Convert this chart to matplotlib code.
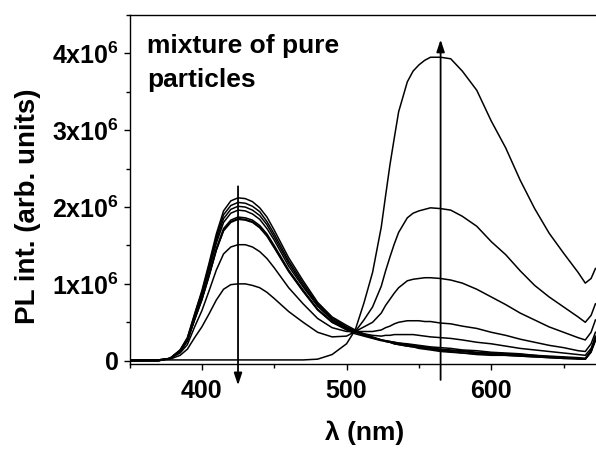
import matplotlib
matplotlib.use('Agg')
import matplotlib.pyplot as plt
from matplotlib.ticker import MultipleLocator, FixedLocator, FixedFormatter

plt.rcParams['font.family'] = ['Liberation Sans', 'DejaVu Sans']
plt.rcParams['font.weight'] = 'bold'
plt.rcParams['mathtext.fontset'] = 'custom'
plt.rcParams['mathtext.bf'] = 'Liberation Sans:bold'
plt.rcParams['mathtext.rm'] = 'Liberation Sans:bold'

# wavelength grid (nm)
wl = [350, 370, 378, 385, 390, 395, 400, 405, 410, 415,
      420, 425, 430, 435, 440, 445, 450, 460, 470, 480,
      490, 500, 506, 512, 518, 524, 527, 530, 533, 536,
      542, 546, 550, 554, 558, 565, 572, 580, 590, 600,
      610, 620, 630, 640, 650, 660, 665, 669, 672]

# PL spectra of the mixtures, in units of 1e6
s0 = [0.01, 0.01, 0.01, 0.01, 0.01, 0.01, 0.01, 0.01, 0.01, 0.01,
      0.01, 0.01, 0.01, 0.01, 0.01, 0.01, 0.01, 0.01, 0.01, 0.02,
      0.08, 0.22, 0.40, 0.75, 1.15, 1.74, 2.15, 2.55, 2.90, 3.24,
      3.63, 3.77, 3.85, 3.91, 3.95, 3.95, 3.93, 3.77, 3.52, 3.12,
      2.77, 2.35, 1.98, 1.66, 1.40, 1.15, 1.01, 1.07, 1.20]
s1 = [0.01, 0.01, 0.02, 0.07, 0.15, 0.30, 0.44, 0.61, 0.79, 0.93,
      0.99, 1.00, 1.00, 0.98, 0.95, 0.89, 0.81, 0.64, 0.50, 0.37,
      0.31, 0.32, 0.38, 0.53, 0.70, 0.97, 1.17, 1.35, 1.52, 1.67,
      1.86, 1.92, 1.95, 1.97, 1.99, 1.98, 1.96, 1.88, 1.75, 1.55,
      1.38, 1.17, 0.98, 0.83, 0.70, 0.57, 0.50, 0.59, 0.74]
s2 = [0.00, 0.01, 0.03, 0.10, 0.21, 0.44, 0.65, 0.91, 1.18, 1.39,
      1.48, 1.51, 1.51, 1.48, 1.42, 1.33, 1.21, 0.95, 0.74, 0.55,
      0.43, 0.38, 0.38, 0.44, 0.50, 0.62, 0.72, 0.80, 0.88, 0.95,
      1.04, 1.06, 1.07, 1.08, 1.08, 1.07, 1.05, 1.01, 0.93, 0.83,
      0.73, 0.62, 0.53, 0.44, 0.37, 0.30, 0.27, 0.37, 0.53]
s3 = [0.00, 0.01, 0.03, 0.12, 0.26, 0.53, 0.79, 1.10, 1.44, 1.69,
      1.80, 1.84, 1.83, 1.80, 1.73, 1.62, 1.47, 1.16, 0.90, 0.66,
      0.50, 0.42, 0.38, 0.38, 0.38, 0.40, 0.43, 0.45, 0.48, 0.50,
      0.52, 0.52, 0.52, 0.51, 0.51, 0.49, 0.48, 0.45, 0.42, 0.37,
      0.33, 0.28, 0.24, 0.20, 0.17, 0.13, 0.12, 0.22, 0.37]
s4 = [0.00, 0.01, 0.03, 0.12, 0.26, 0.54, 0.80, 1.12, 1.46, 1.72,
      1.83, 1.87, 1.86, 1.83, 1.76, 1.65, 1.50, 1.18, 0.92, 0.67,
      0.51, 0.41, 0.37, 0.35, 0.33, 0.32, 0.33, 0.33, 0.34, 0.34,
      0.34, 0.34, 0.33, 0.32, 0.31, 0.30, 0.29, 0.27, 0.24, 0.22,
      0.19, 0.16, 0.14, 0.12, 0.10, 0.08, 0.07, 0.16, 0.31]
s5 = [0.00, 0.00, 0.03, 0.12, 0.26, 0.54, 0.80, 1.11, 1.44, 1.70,
      1.81, 1.85, 1.84, 1.81, 1.74, 1.63, 1.48, 1.17, 0.91, 0.67,
      0.50, 0.40, 0.35, 0.32, 0.29, 0.26, 0.26, 0.25, 0.24, 0.23,
      0.22, 0.21, 0.20, 0.19, 0.18, 0.17, 0.16, 0.14, 0.13, 0.11,
      0.10, 0.09, 0.07, 0.06, 0.05, 0.04, 0.03, 0.13, 0.27]
s6 = [0.00, 0.00, 0.03, 0.13, 0.27, 0.57, 0.84, 1.18, 1.53, 1.80,
      1.92, 1.96, 1.95, 1.91, 1.84, 1.72, 1.57, 1.23, 0.96, 0.71,
      0.53, 0.42, 0.37, 0.33, 0.30, 0.27, 0.26, 0.25, 0.24, 0.23,
      0.21, 0.20, 0.19, 0.18, 0.17, 0.15, 0.14, 0.13, 0.11, 0.10,
      0.09, 0.08, 0.07, 0.05, 0.04, 0.03, 0.03, 0.13, 0.28]
s7 = [0.00, 0.00, 0.03, 0.13, 0.28, 0.58, 0.86, 1.21, 1.57, 1.85,
      1.97, 2.01, 2.00, 1.96, 1.89, 1.77, 1.61, 1.27, 0.98, 0.72,
      0.54, 0.43, 0.38, 0.34, 0.30, 0.27, 0.26, 0.24, 0.23, 0.22,
      0.20, 0.19, 0.18, 0.17, 0.16, 0.14, 0.13, 0.12, 0.10, 0.09,
      0.08, 0.07, 0.06, 0.05, 0.04, 0.03, 0.02, 0.12, 0.30]
s8 = [0.00, 0.00, 0.03, 0.14, 0.29, 0.60, 0.89, 1.24, 1.61, 1.90,
      2.02, 2.06, 2.05, 2.01, 1.94, 1.81, 1.65, 1.30, 1.01, 0.74,
      0.56, 0.44, 0.39, 0.34, 0.30, 0.27, 0.25, 0.24, 0.22, 0.21,
      0.19, 0.18, 0.17, 0.16, 0.15, 0.13, 0.12, 0.10, 0.09, 0.08,
      0.07, 0.06, 0.05, 0.04, 0.03, 0.03, 0.02, 0.11, 0.26]
s9 = [0.00, 0.00, 0.03, 0.14, 0.30, 0.61, 0.91, 1.27, 1.65, 1.95,
      2.08, 2.12, 2.11, 2.07, 1.99, 1.87, 1.70, 1.34, 1.04, 0.76,
      0.57, 0.46, 0.40, 0.35, 0.31, 0.27, 0.25, 0.24, 0.22, 0.21,
      0.19, 0.18, 0.16, 0.15, 0.14, 0.12, 0.11, 0.10, 0.08, 0.07,
      0.07, 0.06, 0.05, 0.04, 0.03, 0.02, 0.02, 0.12, 0.32]
spectra = [s0, s1, s2, s3, s4, s5, s6, s7, s8, s9]

yticks = [0, 1, 2, 3, 4]
ytick_labels = ['0', r'$\mathbf{1x10^6}$', r'$\mathbf{2x10^6}$',
                r'$\mathbf{3x10^6}$', r'$\mathbf{4x10^6}$']

# arrows: (wavelength, tail, head) in units of 1e6
arrow_blue = (425, 2.27, -0.32)
arrow_yellow = (565, -0.25, 4.18)

fig = plt.figure(figsize=(5.96, 4.5), dpi=100)
ax = fig.add_axes([129.5 / 596, 86 / 450, 1 - 129.5 / 596, 349 / 450])

for s in spectra:
    ax.plot(wl, s, color='black', lw=1.1)

ax.set_xlim(350, 672.4)
ax.set_ylim(-0.043, 4.5)

ax.xaxis.set_major_locator(MultipleLocator(100))
ax.xaxis.set_minor_locator(MultipleLocator(50))
ax.yaxis.set_major_locator(FixedLocator(yticks))
ax.yaxis.set_major_formatter(FixedFormatter(ytick_labels))
ax.yaxis.set_minor_locator(MultipleLocator(0.5))

ax.tick_params(which='both', direction='out', width=1.0, labelsize=18, top=False, right=False)
ax.tick_params(which='major', length=4.5)
ax.tick_params(which='minor', length=3)
ax.tick_params(axis='x', pad=6)
ax.tick_params(axis='y', pad=3)
for lab in ax.get_xticklabels() + ax.get_yticklabels():
    lab.set_fontweight('bold')

for sp in ax.spines.values():
    sp.set_linewidth(1.0)
ax.spines['right'].set_visible(False)

ax.set_xlabel('λ (nm)', fontsize=19, fontweight='bold')
ax.set_ylabel('PL int. (arb. units)', fontsize=20, fontweight='bold')
ax.xaxis.set_label_coords(0.503, -0.163)
ax.yaxis.set_label_coords(-0.19, 0.453)

ax.text(0.0375, 0.891, 'mixture of pure', transform=ax.transAxes,
        fontsize=19, fontweight='bold', va='baseline', ha='left')
ax.text(0.0375, 0.794, 'particles', transform=ax.transAxes,
        fontsize=19, fontweight='bold', va='baseline', ha='left')

for x, y0, y1 in (arrow_blue, arrow_yellow):
    ax.annotate('', xy=(x, y1), xytext=(x, y0), annotation_clip=False,
                arrowprops=dict(arrowstyle='-|>,head_length=0.6,head_width=0.2',
                                mutation_scale=12, lw=1.3, color='black',
                                shrinkA=0, shrinkB=0))

fig.savefig('out.png', dpi=100)
